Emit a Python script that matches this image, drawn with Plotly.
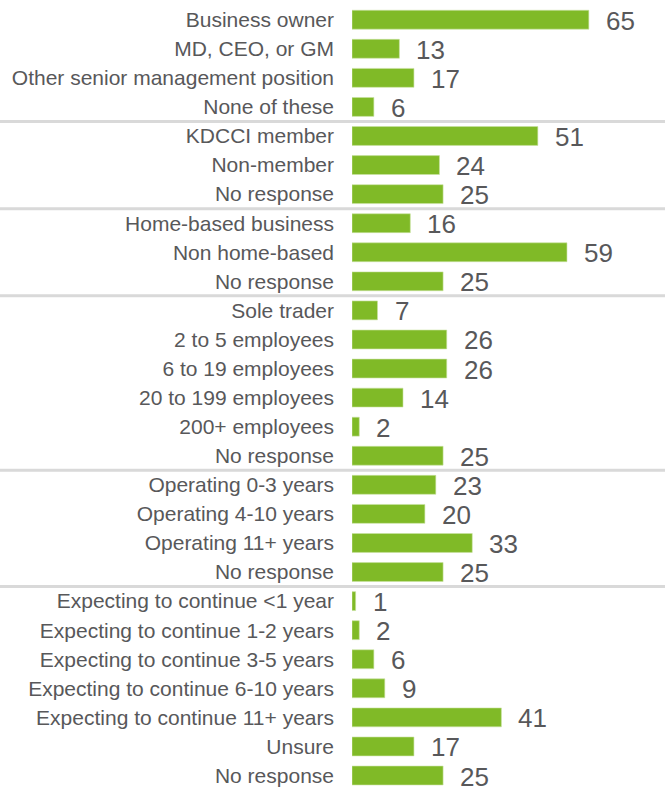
import plotly.graph_objects as go

# Respondent profile: share of respondents (%) per category, listed top to bottom
categories = [
    "Business owner", "MD, CEO, or GM", "Other senior management position", "None of these",
    "KDCCI member", "Non-member", "No response",
    "Home-based business", "Non home-based", "No response",
    "Sole trader", "2 to 5 employees", "6 to 19 employees", "20 to 199 employees",
    "200+ employees", "No response",
    "Operating 0-3 years", "Operating 4-10 years", "Operating 11+ years", "No response",
    "Expecting to continue <1 year", "Expecting to continue 1-2 years",
    "Expecting to continue 3-5 years", "Expecting to continue 6-10 years",
    "Expecting to continue 11+ years", "Unsure", "No response",
]
values = [65, 13, 17, 6,
          51, 24, 25,
          16, 59, 25,
          7, 26, 26, 14, 2, 25,
          23, 20, 33, 25,
          1, 2, 6, 9, 41, 17, 25]
# size of each question block (a divider is drawn after each block except the last)
group_sizes = [4, 3, 3, 6, 4, 7]

GREEN = "#80ba27"
TEXT = "#58585a"
FONT = "Arial, Liberation Sans, sans-serif"

positions = list(range(len(categories)))

fig = go.Figure()
fig.add_trace(go.Bar(
    x=values,
    y=positions,
    orientation="h",
    marker=dict(color=GREEN, line=dict(color="#c9e3a3", width=0.6)),
    width=0.65,
    hoverinfo="skip",
))

# value labels to the right of each bar
annotations = []
for pos, val in zip(positions, values):
    annotations.append(dict(
        x=val, y=pos, xref="x", yref="y",
        text=str(val), showarrow=False,
        xanchor="left", yanchor="middle", xshift=15, yshift=-1,
        font=dict(family=FONT, size=26, color=TEXT),
    ))

# horizontal dividers between question blocks, full page width
shapes = []
boundary = 0
for size in group_sizes[:-1]:
    boundary += size
    shapes.append(dict(
        type="line", xref="paper", yref="y",
        x0=-1.2, x1=1.0, y0=boundary - 0.5, y1=boundary - 0.5,
        line=dict(color="#d9d9d9", width=3),
        layer="below",
    ))

fig.update_layout(
    width=665, height=787,
    margin=dict(l=352, r=0, t=0, b=0),
    paper_bgcolor="white", plot_bgcolor="white",
    showlegend=False,
    bargap=0.35,
    annotations=annotations,
    shapes=shapes,
    xaxis=dict(range=[0, 85.9], visible=False, fixedrange=True),
    yaxis=dict(
        range=[26.395, -0.678],
        tickmode="array", tickvals=positions, ticktext=categories,
        ticks="", showgrid=False, zeroline=False, showline=False,
        tickfont=dict(family=FONT, size=21, color=TEXT),
        ticklabelstandoff=17,
        fixedrange=True,
    ),
)

fig.write_html("out.html")
